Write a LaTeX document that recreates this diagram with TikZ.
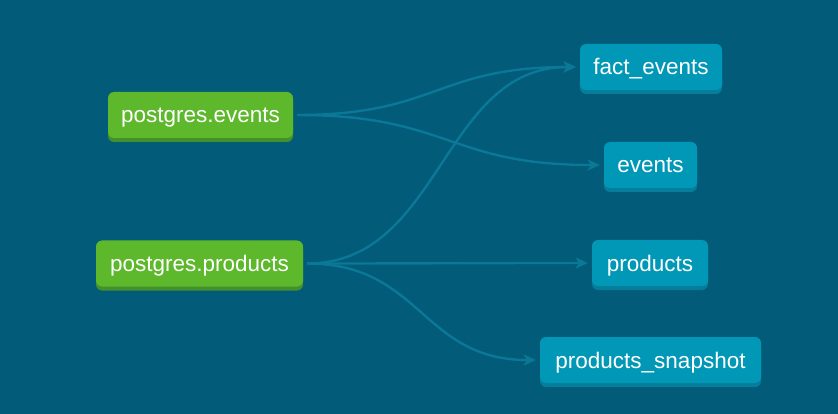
\documentclass[tikz,border=0pt]{standalone}
\usepackage{fontspec}
\setmainfont{Liberation Sans}
\usetikzlibrary{arrows.meta,shadows,calc}
\definecolor{bgc}{HTML}{015B79}
\definecolor{srcg}{HTML}{5DB82B}
\definecolor{srcgd}{HTML}{44902B}
\definecolor{mdl}{HTML}{0098B6}
\definecolor{mdld}{HTML}{067E9B}
\definecolor{edg}{HTML}{0B7897}
\tikzset{
  box/.style={rectangle, rounded corners=6pt, minimum height=46pt, inner sep=0pt,
    text height=18pt, text depth=2pt,
    text=white, font=\fontsize{22.5}{26}\selectfont},
  srcbox/.style={box, fill=srcg, general shadow={shadow yshift=-4pt, fill=srcgd}},
  mdlbox/.style={box, fill=mdl, general shadow={shadow yshift=-4pt, fill=mdld}},
  lineage/.style={draw=edg, line width=2.4pt, shorten <=4pt, shorten >=4pt,
    -{Stealth[length=12pt,width=11pt,inset=3pt]}},
}
\newcommand{\flow}[2]{%
  \path let \p1=(#1.east), \p2=(#2.west) in
    [lineage] (#1.east) .. controls ({(\x1+\x2)/2},\y1) and ({(\x1+\x2)/2},\y2) .. (#2.west);}
\begin{document}
\begin{tikzpicture}[x=1pt,y=-1pt]
\fill[bgc] (0,0) rectangle (838,414);
\useasboundingbox (0,0) rectangle (838,414);
\node[srcbox, minimum width=185pt] (pe) at (200.5,115) {postgres.events};
\node[srcbox, minimum width=207pt] (pp) at (199.5,263.5) {postgres.products};
\node[mdlbox, minimum width=142pt] (fe) at (651,67) {fact\_events};
\node[mdlbox, minimum width=93pt] (ev) at (650.5,165) {events};
\node[mdlbox, minimum width=116pt] (pr) at (650,263) {products};
\node[mdlbox, minimum width=221pt] (ps) at (650.5,360) {products\_snapshot};
\flow{pe}{fe}
\flow{pe}{ev}
\flow{pp}{fe}
\flow{pp}{pr}
\flow{pp}{ps}
\end{tikzpicture}
\end{document}
